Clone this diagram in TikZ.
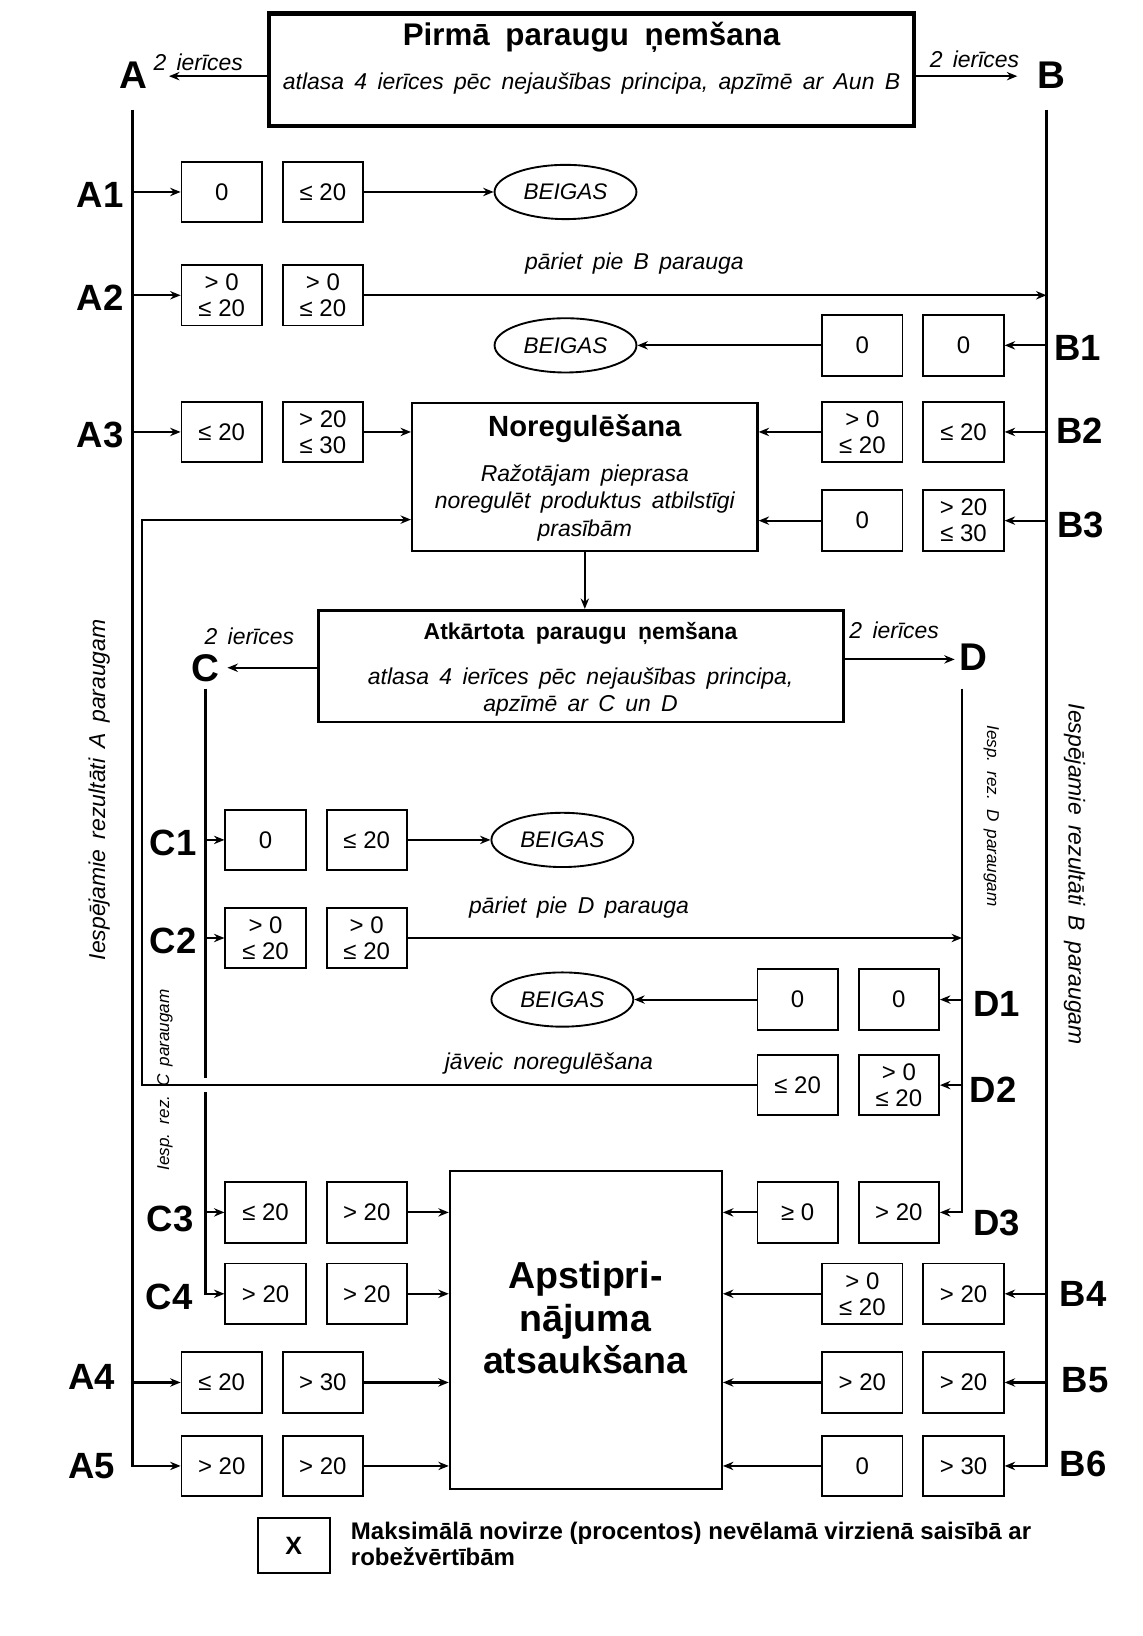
\documentclass[tikz,border=0pt]{standalone}
\usepackage{fontspec}
\setmainfont{Liberation Sans}
\usetikzlibrary{arrows.meta,shapes.geometric}
\newcommand\myws{\spaceskip=.45em\relax}
\newcommand\mywsb{\spaceskip=.5em\relax}
\tikzset{
 lab/.style={font=\fontsize{17.5}{19}\selectfont\bfseries, inner sep=0pt},
 big/.style={font=\fontsize{18.5}{20}\selectfont\bfseries, inner sep=0pt},
 vb/.style={draw, line width=0.9pt, minimum width=38.5pt, minimum height=29pt, inner sep=0pt, align=center, font=\fontsize{11.5}{12.5}\selectfont},
 it/.style={font=\fontsize{11}{13}\selectfont\itshape\myws, inner sep=0pt, align=center},
 small/.style={font=\fontsize{8.2}{10}\selectfont\itshape\myws, inner sep=0pt},
 ln/.style={line width=1.1pt},
 arr/.style={line width=1pt, -{Stealth[length=5pt,width=4pt]}},
 ell/.style={ellipse, draw, line width=0.9pt, minimum width=68pt, minimum height=26pt, inner sep=0pt, font=\fontsize{10.8}{12}\selectfont\itshape},
 bigbox/.style={draw, inner sep=0pt},
}
\begin{document}
\begin{tikzpicture}[x=0.5pt,y=-0.5pt]
\useasboundingbox (0,0) rectangle (1095,1568);
% ---------- top box
\node[bigbox, line width=2pt, minimum width=309pt, minimum height=54pt] (top) at (567,67) {};
\node[font=\fontsize{15}{17}\selectfont\bfseries\mywsb, inner sep=0pt] (t1) at (567,36) {Pirmā paraugu ņemšana};
\node[it] (t2) at (567,80) {atlasa 4 ierīces pēc nejaušības principa, apzīmē ar Aun B};
\node[big] (A) at (128,72) {A};
\node[big] (B) at (1008,72) {B};
\node[it] (ia) at (190,60) {2 ierīces};
\node[it] (ib) at (934,57) {2 ierīces};
\coordinate (Aend) at (162,73);
\coordinate (Bend) at (975,73);
\draw[arr] ([yshift=-3pt]top.west) -- (Aend);
\draw[arr] ([yshift=-3pt]top.east) -- (Bend);
% ---------- main verticals
\coordinate (Atop) at (127,105);
\coordinate (Btop) at (1003,105);
% ---------- A rows
\node[vb] (a1a) at (212.5,184) {0};
\node[vb] (a1b) at (309.5,184) {≤ 20};
\node[vb] (a2a) at (212.5,283) {> 0\\≤ 20};
\node[vb] (a2b) at (309.5,283) {> 0\\≤ 20};
\node[vb] (a3a) at (212.5,414) {≤ 20};
\node[vb] (a3b) at (309.5,414) {> 20\\≤ 30};
\node[vb] (a4a) at (212.5,1325) {≤ 20};
\node[vb] (a4b) at (309.5,1325) {> 30};
\node[vb] (a5a) at (212.5,1405) {> 20};
\node[vb] (a5b) at (309.5,1405) {> 20};
\node[lab] (A1) at (96,187) {A1};
\node[lab] (A2) at (96,285) {A2};
\node[lab] (A3) at (96,417) {A3};
\node[lab] (A4) at (88,1320) {A4};
\node[lab] (A5) at (88,1405) {A5};
% ---------- B rows
\node[vb] (b1a) at (826.5,331) {0};
\node[vb] (b1b) at (923.5,331) {0};
\node[vb] (b2a) at (826.5,414) {> 0\\≤ 20};
\node[vb] (b2b) at (923.5,414) {≤ 20};
\node[vb] (b3a) at (826.5,499) {0};
\node[vb] (b3b) at (923.5,499) {> 20\\≤ 30};
\node[vb] (b4a) at (826.5,1240) {> 0\\≤ 20};
\node[vb] (b4b) at (923.5,1240) {> 20};
\node[vb] (b5a) at (826.5,1325) {> 20};
\node[vb] (b5b) at (923.5,1325) {> 20};
\node[vb] (b6a) at (826.5,1405) {0};
\node[vb] (b6b) at (923.5,1405) {> 30};
\node[lab] (B1) at (1033,333) {B1};
\node[lab] (B2) at (1035,413) {B2};
\node[lab] (B3) at (1036,503) {B3};
\node[lab] (B4) at (1038,1240) {B4};
\node[lab] (B5) at (1040,1323) {B5};
\node[lab] (B6) at (1038,1403) {B6};
% ---------- ellipses
\node[ell] (e1) at (542,184) {BEIGAS};
\node[ell] (e2) at (542,331) {BEIGAS};
\node[ell] (e3) at (539,805) {BEIGAS};
\node[ell] (e4) at (539,958) {BEIGAS};
% ---------- Noregulesana
\node[bigbox, line width=1.1pt, minimum width=165.5pt, minimum height=71pt] (nor) at (560.5,457) {};
\node[font=\fontsize{14}{16}\selectfont\bfseries, inner sep=0pt] (nort) at (560.5,411) {Noregulēšana};
\node[it] (norb) at (560.5,482) {Ražotājam pieprasa\\noregulēt produktus atbilstīgi\\prasībām};
% ---------- Atkartota
\node[bigbox, line width=1.4pt, minimum width=251.5pt, minimum height=53.5pt] (atk) at (556.5,638.5) {};
\node[font=\fontsize{11}{13}\selectfont\bfseries\mywsb, inner sep=0pt] (atkt) at (556.5,607) {Atkārtota paraugu ņemšana};
\node[it] (atkb) at (556.5,663) {atlasa 4 ierīces pēc nejaušības principa,\\apzīmē ar C un D};
\node[big] (C) at (197,640) {C};
\node[big] (D) at (933,630) {D};
\node[it] (ic) at (239,610) {2 ierīces};
\node[it] (id) at (857,604) {2 ierīces};
\coordinate (Cend) at (218,640);
\coordinate (Dend) at (915,632);
\draw[arr] (atk.west |- Cend) -- (Cend);
\draw[arr] (atk.east |- Dend) -- (Dend);
% ---------- C rows
\node[vb] (c1a) at (254.5,805) {0};
\node[vb] (c1b) at (351.5,805) {≤ 20};
\node[vb] (c2a) at (254.5,899) {> 0\\≤ 20};
\node[vb] (c2b) at (351.5,899) {> 0\\≤ 20};
\node[vb] (c3a) at (254.5,1162) {≤ 20};
\node[vb] (c3b) at (351.5,1162) {> 20};
\node[vb] (c4a) at (254.5,1240) {> 20};
\node[vb] (c4b) at (351.5,1240) {> 20};
\node[lab] (C1) at (166,808) {C1};
\node[lab] (C2) at (166,902) {C2};
\node[lab] (C3) at (163,1168) {C3};
\node[lab] (C4) at (162,1243) {C4};
% ---------- D rows
\node[vb] (d1a) at (764.5,958) {0};
\node[vb] (d1b) at (861.5,958) {0};
\node[vb] (d2a) at (764.5,1040) {≤ 20};
\node[vb] (d2b) at (861.5,1040) {> 0\\≤ 20};
\node[vb] (d3a) at (764.5,1162) {≥ 0};
\node[vb] (d3b) at (861.5,1162) {> 20};
\node[lab] (D1) at (955,962) {D1};
\node[lab] (D2) at (952,1044) {D2};
\node[lab] (D3) at (955,1172) {D3};
% ---------- Apstiprinajuma
\node[bigbox, line width=0.9pt, minimum width=130.5pt, minimum height=152.5pt] (aps) at (561.5,1274.5) {};
\node[font=\fontsize{18}{20.25}\selectfont\bfseries, align=center, inner sep=0pt] (apst) at (561,1263) {Apstipri-\\nājuma\\atsaukšana};
% ---------- text labels
\node[it] (pb) at (608,253) {pāriet pie B parauga};
\node[it] (pd) at (555,870) {pāriet pie D parauga};
\node[it] (jn) at (526,1019) {jāveic noregulēšana};
\node[it, rotate=90] (va) at (95,757) {Iespējamie rezultāti A paraugam};
\node[it, rotate=-90] (vbb) at (1030,838) {Iespējamie rezultāti B paraugam};
\node[small, rotate=90] (vc) at (158,1035) {Iesp. rez. C paraugam};
\node[small, rotate=-90] (vd) at (950,782) {Iesp. rez. D paraugam};
% ---------- A connectors
\draw[arr, line width=1.2pt] (Atop) -- (Atop |- a5a.west) -- (a5a.west);
\draw[arr] (Atop |- a1a.west) -- (a1a.west);
\draw[arr] (Atop |- a2a.west) -- (a2a.west);
\draw[arr] (Atop |- a3a.west) -- (a3a.west);
\draw[arr] (Atop |- a4a.west) -- (a4a.west);
\draw[arr] (a1b.east) -- (e1);
\draw[arr] (a2b.east) -- (Btop |- a2b.east);
\draw[arr] (a3b.east) -- (nor.west |- a3b.east);
\draw[arr] (a4b.east) -- (aps.west |- a4b.east);
\draw[arr] (a5b.east) -- (aps.west |- a5b.east);
% ---------- B connectors
\draw[arr, line width=1.2pt] (Btop) -- (Btop |- b6b.east) -- (b6b.east);
\draw[arr] (Btop |- b1b.east) -- (b1b.east);
\draw[arr] (Btop |- b2b.east) -- (b2b.east);
\draw[arr] (Btop |- b3b.east) -- (b3b.east);
\draw[arr] (Btop |- b4b.east) -- (b4b.east);
\draw[arr] (Btop |- b5b.east) -- (b5b.east);
\draw[arr] (b1a.west) -- (e2);
\draw[arr] (b2a.west) -- (nor.east |- b2a.west);
\draw[arr] (b3a.west) -- (nor.east |- b3a.west);
\draw[arr] (b4a.west) -- (aps.east |- b4a.west);
\draw[arr] (b5a.west) -- (aps.east |- b5a.west);
\draw[arr] (b6a.west) -- (aps.east |- b6a.west);
% ---------- middle
\draw[arr] (nor.south) -- (nor.south |- atk.north);
% ---------- C connectors
\coordinate (Ctop) at (197,660);
\coordinate (Cg1) at (197,1033);
\coordinate (Cg2) at (197,1047);
\draw[ln] (Ctop) -- (Cg1);
\draw[arr, line width=1.1pt] (Cg2) -- (Cg2 |- c4a.west) -- (c4a.west);
\draw[arr] (Ctop |- c1a.west) -- (c1a.west);
\draw[arr] (Ctop |- c2a.west) -- (c2a.west);
\draw[arr] (Ctop |- c3a.west) -- (c3a.west);
\draw[arr] (c1b.east) -- (e3);
\draw[arr] (c3b.east) -- (aps.west |- c3b.east);
\draw[arr] (c4b.east) -- (aps.west |- c4b.east);
% ---------- D connectors
\coordinate (Dtop) at (922,660);
\draw[arr] (Dtop) -- (Dtop |- d3b.east) -- (d3b.east);
\draw[arr] (Dtop |- d1b.east) -- (d1b.east);
\draw[arr] (Dtop |- d2b.east) -- (d2b.east);
\draw[arr] (c2b.east) -- (Dtop |- c2b.east);
\draw[arr] (d1a.west) -- (e4);
\draw[arr] (d3a.west) -- (aps.east |- d3a.west);
\coordinate (fb) at (136,498);
\draw[arr] (d2a.west) -- (fb |- d2a.west) -- (fb) -- (nor.west |- fb);
% ---------- legend
\node[vb, minimum width=34.5pt, minimum height=26.5pt, font=\fontsize{12}{14}\selectfont\bfseries] (lx) at (281.5,1481.5) {X};
\node[anchor=north west, align=left, inner sep=0pt, font=\fontsize{11.5}{12.5}\selectfont\bfseries] (lt) at (336,1458) {Maksimālā novirze (procentos) nevēlamā virzienā saisībā ar\\robežvērtībām};
\end{tikzpicture}
\end{document}
